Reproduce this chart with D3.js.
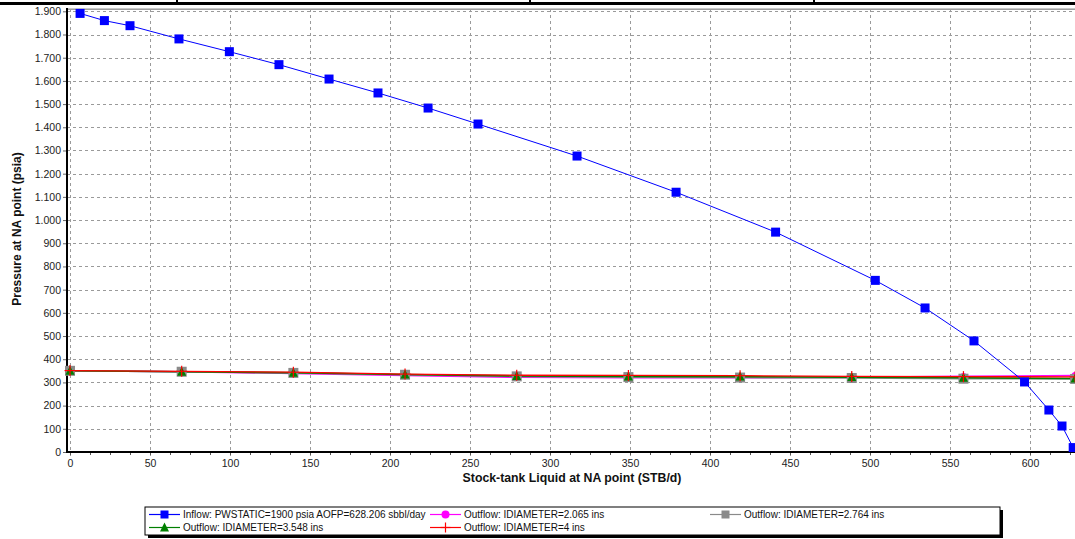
<!DOCTYPE html>
<html><head><meta charset="utf-8">
<script src="https://cdn.jsdelivr.net/npm/d3@7"></script>
<style>html,body{margin:0;padding:0;background:#fff;}svg{display:block;}</style>
</head><body>
<svg id="c" width="1075" height="539"></svg>
<script>
// ---- data ----
const inflowQ = [6.3, 21.5, 37.5, 68.1, 99.6, 130.6, 161.9, 192.5, 223.8, 255, 316.9, 378.8, 441, 503.3, 534.4, 565, 596.6, 611.8, 620, 627];
const inflowP = [1891, 1860, 1838, 1781, 1726, 1670, 1608, 1548, 1483, 1414, 1276, 1120, 948, 740, 621, 479, 302, 181, 112, 19];
const outflowQ = [0, 69.8, 139.6, 209.4, 279.2, 349.0, 418.8, 488.6, 558.4, 628.2];
const outP_2065 = [350, 346, 339, 330, 322, 320, 320, 322, 326, 330];
const outP_2764 = [350, 346, 341, 333, 326, 323, 321, 319, 316, 315];
const outP_3548 = [350, 346, 342, 334, 328, 326, 325, 323, 320, 317];
const outP_4 = [351, 348, 344, 336, 331, 330, 329, 326, 325, 324];
const xTicks = [0, 50, 100, 150, 200, 250, 300, 350, 400, 450, 500, 550, 600];
const yTicks = [0, 100, 200, 300, 400, 500, 600, 700, 800, 900, 1000, 1100, 1200, 1300, 1400, 1500, 1600, 1700, 1800, 1900];
const seriesNames = ["Inflow: PWSTATIC=1900 psia AOFP=628.206 sbbl/day", "Outflow: IDIAMETER=2.065 ins", "Outflow: IDIAMETER=2.764 ins", "Outflow: IDIAMETER=3.548 ins", "Outflow: IDIAMETER=4 ins"];
const xTitle = "Stock-tank Liquid at NA point (STB/d)";
const yTitle = "Pressure at NA point (psia)";

// ---- setup ----
const svg = d3.select("#c");
const FONT = "'Liberation Sans', Arial, sans-serif";
const L = 67, R = 1075, T = 9, B = 452;
const x = d3.scaleLinear().domain([-1.875, 628.125]).range([L, R]);
const y = d3.scaleLinear().domain([0, 1910]).range([B, T]);
const loc = d3.formatLocale({decimal: ",", thousands: ".", grouping: [3], currency: ["", ""]});
const fmt = loc.format(",");

// top strip
svg.append("rect").attr("x", 0).attr("y", 2).attr("width", 1075).attr("height", 3).attr("fill", "#000");
[177, 530, 814].forEach(v => svg.append("rect").attr("x", v - 1).attr("y", 0).attr("width", 2).attr("height", 5).attr("fill", "#000"));

// grid
const g = svg.append("g");
g.selectAll(".vg").data(xTicks).join("line")
  .attr("x1", d => Math.round(x(d)) + 0.5).attr("x2", d => Math.round(x(d)) + 0.5)
  .attr("y1", T).attr("y2", B + 4)
  .attr("stroke", "#9a9a9a").attr("stroke-width", 1).attr("stroke-dasharray", "3,3");
g.selectAll(".hg").data(yTicks.filter(d => d > 0)).join("line")
  .attr("x1", L).attr("x2", R)
  .attr("y1", d => Math.round(y(d)) + 0.5).attr("y2", d => Math.round(y(d)) + 0.5)
  .attr("stroke", "#9a9a9a").attr("stroke-width", 1).attr("stroke-dasharray", "3,3");
// top border
svg.append("line").attr("x1", L).attr("x2", R).attr("y1", T + 0.5).attr("y2", T + 0.5).attr("stroke", "#a0a0a0").attr("stroke-width", 1);
svg.append("line").attr("x1", L).attr("x2", R).attr("y1", T - 0.5).attr("y2", T - 0.5).attr("stroke", "#c8c8c8").attr("stroke-width", 1);

// axes
const xAxis = d3.axisBottom(x).tickValues(xTicks).tickSize(0).tickPadding(8).tickFormat(fmt);
const xa = svg.append("g").attr("transform", `translate(0,${B})`).call(xAxis);
xa.select(".domain").remove();
xa.selectAll("text").attr("font-family", FONT).attr("font-size", "10.5px").attr("fill", "#222");
// minor ticks on x
const minor = d3.range(0, 628, 12.5);
svg.append("g").selectAll("line").data(minor).join("line")
  .attr("x1", d => Math.round(x(d)) + 0.5).attr("x2", d => Math.round(x(d)) + 0.5)
  .attr("y1", B).attr("y2", B + 3).attr("stroke", "#555");

const yAxis = d3.axisLeft(y).tickValues(yTicks).tickSize(4).tickPadding(2).tickFormat(fmt);
const ya = svg.append("g").attr("transform", `translate(${L},0)`).call(yAxis);
ya.select(".domain").remove();
ya.selectAll("line").attr("stroke", "#666");
ya.selectAll("text").attr("font-family", FONT).attr("font-size", "10.5px").attr("fill", "#222");

svg.append("line").attr("x1", L).attr("x2", L).attr("y1", T - 1).attr("y2", B + 1).attr("stroke", "#000").attr("stroke-width", 2);
svg.append("line").attr("x1", L - 1).attr("x2", R).attr("y1", B).attr("y2", B).attr("stroke", "#000").attr("stroke-width", 2);

// titles
svg.append("text").attr("x", 572).attr("y", 482).attr("text-anchor", "middle")
  .attr("font-family", FONT).attr("font-size", "12.3px").attr("font-weight", "bold").attr("fill", "#111").text(xTitle);
svg.append("text").attr("transform", "translate(21,229) rotate(-90)").attr("text-anchor", "middle")
  .attr("font-family", FONT).attr("font-size", "12px").attr("font-weight", "bold").attr("fill", "#111").text(yTitle);

// ---- series ----
const plot = svg.append("g");
const line = d3.line().x(d => x(d[0])).y(d => y(d[1]));
function zip(a, b) { return a.map((v, i) => [v, b[i]]); }

function marker(sel, type, color, cx, cy, s) {
  if (type === "square") sel.append("rect").attr("x", cx - s / 2).attr("y", cy - s / 2).attr("width", s).attr("height", s).attr("fill", color);
  else if (type === "circle") sel.append("circle").attr("cx", cx).attr("cy", cy).attr("r", s / 2).attr("fill", color);
  else if (type === "triangle") sel.append("path").attr("d", `M${cx},${cy - s / 2 - 1}L${cx + s / 2 + 0.5},${cy + s / 2}L${cx - s / 2 - 0.5},${cy + s / 2}Z`).attr("fill", color);
  else if (type === "plus") {
    sel.append("line").attr("x1", cx - s / 2).attr("x2", cx + s / 2).attr("y1", cy).attr("y2", cy).attr("stroke", color).attr("stroke-width", 1.2);
    sel.append("line").attr("x1", cx).attr("x2", cx).attr("y1", cy - s / 2).attr("y2", cy + s / 2).attr("stroke", color).attr("stroke-width", 1.2);
  }
}

const series = [
  {q: outflowQ, p: outP_2065, color: "#ff00ff", lw: 1.6, type: "circle", s: 7, name: seriesNames[1]},
  {q: outflowQ, p: outP_2764, color: "#8a8a8a", lw: 1.6, type: "square", s: 10, name: seriesNames[2]},
  {q: outflowQ, p: outP_3548, color: "#008000", lw: 1.6, type: "triangle", s: 8, name: seriesNames[3]},
  {q: outflowQ, p: outP_4, color: "#ff0000", lw: 1.3, type: "plus", s: 11, name: seriesNames[4]},
  {q: inflowQ, p: inflowP, color: "#0000ff", lw: 1, type: "square", s: 9, name: seriesNames[0]}
];
series.forEach(s => {
  plot.append("path").datum(zip(s.q, s.p)).attr("d", line).attr("fill", "none").attr("stroke", s.color).attr("stroke-width", s.lw);
});
series.forEach(s => {
  const mg = plot.append("g");
  zip(s.q, s.p).forEach(d => marker(mg, s.type, s.color, x(d[0]), y(d[1]), s.s));
});

// ---- legend ----
const lg = svg.append("g");
lg.append("rect").attr("x", 148).attr("y", 510).attr("width", 855).attr("height", 28).attr("fill", "#000");
lg.append("rect").attr("x", 145).attr("y", 507).attr("width", 855).attr("height", 28).attr("fill", "#fff").attr("stroke", "#000").attr("stroke-width", 1);
const legItems = [
  {s: series[4], x: 149, y: 514.5},
  {s: series[0], x: 430, y: 514.5},
  {s: series[1], x: 710, y: 514.5},
  {s: series[2], x: 149, y: 527.5},
  {s: series[3], x: 430, y: 527.5}
];
legItems.forEach(it => {
  const s = it.s;
  lg.append("line").attr("x1", it.x).attr("x2", it.x + 31).attr("y1", it.y).attr("y2", it.y).attr("stroke", s.color).attr("stroke-width", 1.2);
  marker(lg, s.type, s.color, it.x + 15.5, it.y, s.type === "plus" ? 10 : 8);
  lg.append("text").attr("x", it.x + 34).attr("y", it.y + 3.5).attr("font-family", FONT).attr("font-size", "10px").attr("fill", "#111").text(s.name);
});
</script>
</body></html>
